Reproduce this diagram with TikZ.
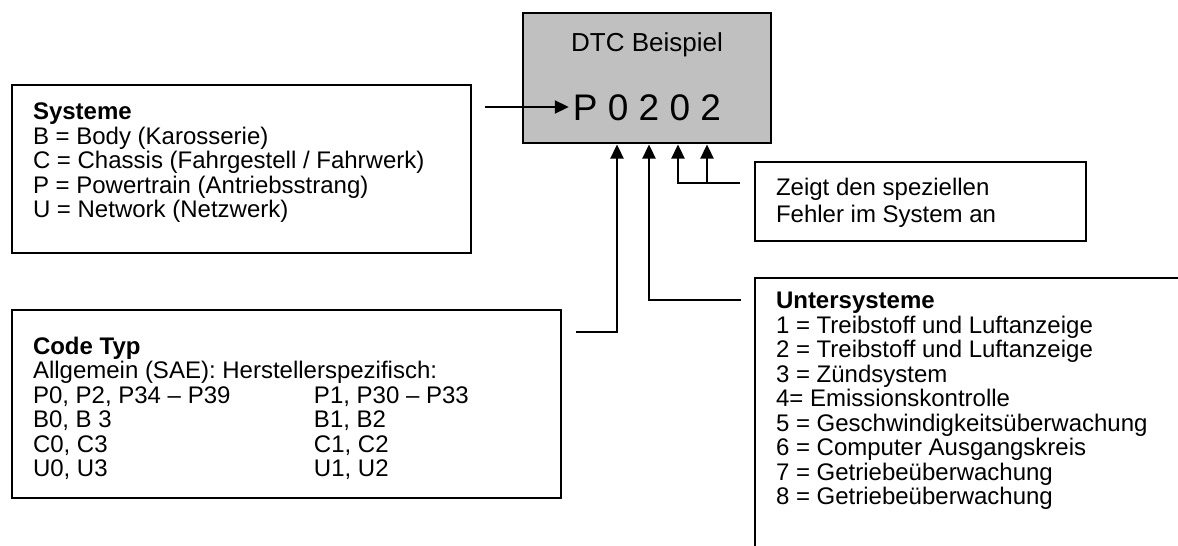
\documentclass[tikz,border=0pt]{standalone}
\usepackage{fontspec}
\setmainfont{Liberation Sans}
\usetikzlibrary{arrows.meta}
\definecolor{boxgray}{HTML}{C0C0C0}
\tikzset{
  box/.style={draw=black, line width=2.3pt, fill=white, inner sep=0pt, outer sep=0pt},
  txt/.style={font=\fontsize{24}{24.5}\selectfont, align=left, anchor=north west, inner sep=0pt, outer sep=0pt},
  conn/.style={line width=2.3pt, -{Triangle[width=13pt,length=14pt]}, shorten >=1.5pt},
}
\begin{document}
\begin{tikzpicture}[x=1pt,y=-1pt]
\useasboundingbox (0,0) rectangle (1178,546);
\clip (0,0) rectangle (1178,546);

% DTC box
\node[box, fill=boxgray, minimum width=248pt, minimum height=130pt] (dtc) at (647,78) {};
\node[font=\fontsize{26}{30}\selectfont, anchor=base, inner sep=0pt] (title) at (647,51) {DTC Beispiel};
\node[font=\fontsize{37}{40}\selectfont, anchor=base, inner sep=0pt] (code) at (647,120) {P 0 2 0 2};

% Systeme
\node[box, minimum width=459pt, minimum height=168pt] (sys) at (241.5,169) {};
\node[txt] (systxt) at (33,103) {\textbf{Systeme}\\B = Body (Karosserie)\\C = Chassis (Fahrgestell / Fahrwerk)\\P = Powertrain (Antriebsstrang)\\U = Network (Netzwerk)};

% Code Typ
\node[box, minimum width=549pt, minimum height=188pt] (ct) at (286.5,404) {};
\node[txt] (cttxt) at (33,337) {\textbf{Code Typ}\\Allgemein (SAE): Herstellerspezifisch:\\
\makebox[281pt][l]{P0, P2, P34 – P39}P1, P30 – P33\\
\makebox[281pt][l]{B0, B 3}B1, B2\\
\makebox[281pt][l]{C0, C3}C1, C2\\
\makebox[281pt][l]{U0, U3}U1, U2};

% Zeigt
\node[box, minimum width=331pt, minimum height=79pt] (zg) at (920.5,201.5) {};
\node[txt, font=\fontsize{24}{27.5}\selectfont] (zgtxt) at (776,178) {Zeigt den speziellen\\Fehler im System an};

% Untersysteme (runs off the page)
\node[box, anchor=north west, minimum width=500pt, minimum height=320pt] (us) at (755,278) {};
\node[txt] (ustxt) at (776,292) {\textbf{Untersysteme}\\1 = Treibstoff und Luftanzeige\\2 = Treibstoff und Luftanzeige\\3 = Zündsystem\\4= Emissionskontrolle\\5 = Geschwindigkeitsüberwachung\\6 = Computer Ausgangskreis\\7 = Getriebeüberwachung\\8 = Getriebeüberwachung};

% connector coordinates
\coordinate (d1) at (617,143);
\coordinate (d2) at (649,143);
\coordinate (d3) at (678,143);
\coordinate (d4) at (707,143);
\coordinate (sa) at (485,107);
\coordinate (cc) at (576,332);
\coordinate (uc) at (741,300);
\coordinate (zc) at (740,183);

\draw[conn, shorten >=4pt] (sa) -- (sa -| code.west);
\draw[conn] (cc) -| (d1);
\draw[conn] (uc) -| (d2);
\draw[conn] (zc) -| (d3);
\draw[conn] (zc -| d4) -- (d4);
\end{tikzpicture}
\end{document}
